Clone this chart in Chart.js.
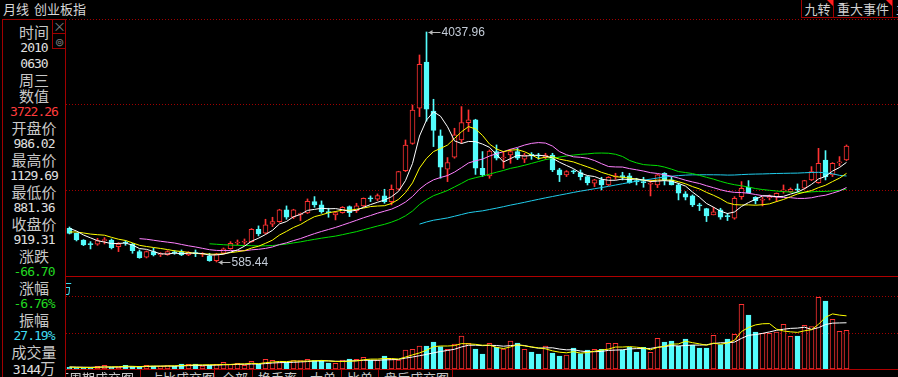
<!DOCTYPE html>
<html>
<head>
<meta charset="utf-8">
<script src="https://cdn.jsdelivr.net/npm/chart.js@4/dist/chart.umd.min.js"></script>
<style>
  html, body { margin: 0; padding: 0; background: #000; }
  #wrap { position: relative; width: 898px; height: 377px; overflow: hidden; background: #000; font-family: "Noto Sans CJK SC", sans-serif; }
  .abs { position: absolute; }
  .red { background: #a00000; }
  #info { left: 3px; top: 24px; width: 62px; text-align: center; color: #c8c8c8; font-size: 15px; line-height: 16px; }
  #info div { height: 16px; white-space: nowrap; }
  #info .num { font-family: "DejaVu Sans Mono", monospace; font-size: 13px; letter-spacing: -1px; color: #e0e0e0; }
  .btn { top: 0; height: 17px; border: 1px solid #a00000; border-top: none; color: #d0d0d0; font-size: 13px; line-height: 17px; text-align: center; overflow: hidden; }
  .btn .tri { position: absolute; right: 0; top: 0; width: 0; height: 0; border-top: 6px solid #ff2020; border-left: 6px solid transparent; }
  .tab { top: 370px; color: #c8c8c8; font-size: 13px; line-height: 14px; white-space: nowrap; }
</style>
</head>
<body>
<div id="wrap">
  <div class="abs" style="left:3px;top:0;color:#d8d8d8;font-size:13px;line-height:18px;">月线</div>
  <div class="abs" style="left:34px;top:0;color:#d8d8d8;font-size:13px;line-height:18px;">创业板指</div>

  <div class="abs btn" style="left:801px;width:31px;">九转<span class="tri"></span></div>
  <div class="abs btn" style="left:833px;width:58px;">重大事件<span class="tri"></span></div>
  <div class="abs btn" style="left:892px;width:20px;text-align:left;padding-left:3px;">主</div>

  <div class="abs red" style="left:2px;top:19px;width:64px;height:1px;"></div>
  <div class="abs red" style="left:2px;top:19px;width:1px;height:358px;"></div>
  <div class="abs red" style="left:65px;top:19px;width:1px;height:358px;"></div>
  <div class="abs" style="left:52px;top:19px;width:12px;height:13px;border:1px solid #a00000;color:#808080;font-size:13px;line-height:12px;text-align:center;">×</div>
  <div class="abs" style="left:52px;top:33px;width:12px;height:14px;border:1px solid #a00000;color:#808080;font-size:11px;line-height:14px;text-align:center;">⊚</div>

  <div id="info" class="abs">
    <div>时间</div>
    <div class="num">2010</div>
    <div class="num">0630</div>
    <div>周三</div>
    <div>数值</div>
    <div class="num" style="color:#ff3c3c">3722.26</div>
    <div>开盘价</div>
    <div class="num">986.02</div>
    <div>最高价</div>
    <div class="num">1129.69</div>
    <div>最低价</div>
    <div class="num">881.36</div>
    <div>收盘价</div>
    <div class="num">919.31</div>
    <div>涨跌</div>
    <div class="num" style="color:#22d822">-66.70</div>
    <div>涨幅</div>
    <div class="num" style="color:#22d822">-6.76%</div>
    <div>振幅</div>
    <div class="num" style="color:#40dcf0">27.19%</div>
    <div>成交量</div>
    <div><span class="num">3144</span>万</div>
    <div>换手率</div>
  </div>

  <canvas id="priceChart" class="abs" width="832" height="257" style="left:66px;top:19px;"></canvas>
  <div class="abs red" style="left:66px;top:276px;width:832px;height:1px;background:#b00000;"></div>
  <canvas id="volumeChart" class="abs" width="832" height="92" style="left:66px;top:277px;"></canvas>
  <div class="abs" style="left:66px;top:280px;width:8px;height:16px;overflow:hidden;">
    <span class="abs" style="left:-7px;top:0;color:#40dcf0;font-size:13px;line-height:16px;">万</span>
  </div>
  <div class="abs red" style="left:66px;top:369px;width:832px;height:1px;background:#b00000;"></div>

  <div class="abs" style="left:66px;top:370px;width:400px;height:7px;overflow:hidden;">
    <span class="abs tab" style="left:-10px;top:1px;">下周期成交图</span>
    <span class="abs tab" style="left:84px;top:1px;">占比成交图</span>
    <span class="abs tab" style="left:156px;top:1px;">全部</span>
    <span class="abs tab" style="left:192px;top:1px;">换手率</span>
    <span class="abs tab" style="left:244px;top:1px;">大单</span>
    <span class="abs tab" style="left:281px;top:1px;">比单</span>
    <span class="abs tab" style="left:318px;top:1px;">盘后成交图</span>
    <span class="abs red" style="left:74px;top:0;width:1px;height:7px;"></span>
    <span class="abs red" style="left:148px;top:0;width:1px;height:7px;"></span>
    <span class="abs red" style="left:186px;top:0;width:1px;height:7px;"></span>
    <span class="abs red" style="left:236px;top:0;width:1px;height:7px;"></span>
    <span class="abs red" style="left:275px;top:0;width:1px;height:7px;"></span>
    <span class="abs red" style="left:312px;top:0;width:1px;height:7px;"></span>
    <span class="abs red" style="left:386px;top:0;width:1px;height:7px;"></span>
  </div>
</div>

<script>
// monthly candles, 2011-03 .. 2020-06
const months = [
  '2011-03', '2011-04', '2011-05', '2011-06', '2011-07', '2011-08', '2011-09', '2011-10', '2011-11', '2011-12',
  '2012-01', '2012-02', '2012-03', '2012-04', '2012-05', '2012-06', '2012-07', '2012-08', '2012-09', '2012-10', '2012-11', '2012-12',
  '2013-01', '2013-02', '2013-03', '2013-04', '2013-05', '2013-06', '2013-07', '2013-08', '2013-09', '2013-10', '2013-11', '2013-12',
  '2014-01', '2014-02', '2014-03', '2014-04', '2014-05', '2014-06', '2014-07', '2014-08', '2014-09', '2014-10', '2014-11', '2014-12',
  '2015-01', '2015-02', '2015-03', '2015-04', '2015-05', '2015-06', '2015-07', '2015-08', '2015-09', '2015-10', '2015-11', '2015-12',
  '2016-01', '2016-02', '2016-03', '2016-04', '2016-05', '2016-06', '2016-07', '2016-08', '2016-09', '2016-10', '2016-11', '2016-12',
  '2017-01', '2017-02', '2017-03', '2017-04', '2017-05', '2017-06', '2017-07', '2017-08', '2017-09', '2017-10', '2017-11', '2017-12',
  '2018-01', '2018-02', '2018-03', '2018-04', '2018-05', '2018-06', '2018-07', '2018-08', '2018-09', '2018-10', '2018-11', '2018-12',
  '2019-01', '2019-02', '2019-03', '2019-04', '2019-05', '2019-06', '2019-07', '2019-08', '2019-09', '2019-10', '2019-11', '2019-12',
  '2020-01', '2020-02', '2020-03', '2020-04', '2020-05', '2020-06'
];

const open = [
  1091, 1016, 916, 851, 851, 906, 916, 816, 876, 856,
  741, 656, 741, 696, 696, 726, 741, 691, 716, 701,
  676, 606, 716, 786, 871, 881, 892, 1077, 1017, 1152,
  1192, 1367, 1257, 1297, 1322, 1492, 1442, 1332, 1292, 1327,
  1417, 1357, 1427, 1537, 1527, 1577, 1492, 1677, 1957, 2367,
  2893, 3588, 2852, 2478, 1978, 2158, 2418, 2678, 2718, 1993,
  1878, 2242, 2147, 2192, 2242, 2127, 2197, 2182, 2157, 2192,
  1967, 1892, 1947, 1927, 1867, 1767, 1817, 1742, 1862, 1872,
  1877, 1797, 1782, 1752, 1742, 1917, 1817, 1742, 1607, 1577,
  1432, 1387, 1292, 1367, 1272, 1242, 1567, 1707, 1557, 1512,
  1552, 1567, 1652, 1642, 1672, 1692, 1817, 1777, 2117, 1892,
  2072, 2117
];
const high = [
  1111, 1021, 921, 891, 941, 951, 931, 876, 906, 866,
  766, 751, 791, 726, 756, 756, 766, 741, 766, 726,
  716, 716, 796, 891, 916, 931, 1087, 1127, 1227, 1257,
  1377, 1427, 1377, 1322, 1532, 1567, 1502, 1392, 1342, 1417,
  1427, 1467, 1547, 1577, 1607, 1677, 1742, 1947, 2417, 2942,
  3693, 4037.96, 3028, 2568, 2153, 2593, 2918, 2868, 2728, 2243,
  2267, 2342, 2242, 2277, 2292, 2217, 2227, 2217, 2217, 2217,
  1992, 1957, 1967, 1967, 1877, 1827, 1857, 1867, 1917, 1932,
  1917, 1842, 1857, 1817, 1902, 1927, 1867, 1767, 1642, 1592,
  1467, 1392, 1407, 1392, 1317, 1567, 1792, 1807, 1567, 1557,
  1592, 1622, 1742, 1697, 1757, 1812, 2017, 2292, 2257, 2077,
  2167, 2342
];
const low = [
  1006, 901, 831, 781, 836, 856, 781, 741, 836, 716,
  641, 646, 676, 666, 686, 701, 681, 681, 666, 666,
  596, 585.44, 706, 776, 841, 851, 882, 977, 1007, 1117,
  1182, 1227, 1237, 1207, 1312, 1407, 1317, 1257, 1217, 1317,
  1267, 1327, 1417, 1492, 1507, 1467, 1442, 1667, 1942, 2352,
  2768, 2700, 2318, 1843, 1792, 2143, 2368, 2543, 1900, 1868,
  1842, 2117, 1992, 2067, 2122, 2077, 2127, 2127, 2127, 1942,
  1792, 1867, 1912, 1817, 1742, 1717, 1667, 1732, 1827, 1817,
  1767, 1742, 1707, 1577, 1702, 1742, 1742, 1517, 1517, 1417,
  1357, 1192, 1292, 1227, 1207, 1227, 1527, 1617, 1457, 1427,
  1517, 1492, 1617, 1627, 1642, 1682, 1807, 1767, 1817, 1867,
  2027, 2107
];
const close = [
  1016, 916, 841, 846, 906, 911, 801, 856, 871, 756,
  651, 741, 691, 701, 741, 721, 691, 731, 711, 706,
  606, 706, 781, 866, 876, 886, 1077, 1007, 1142, 1192,
  1367, 1257, 1367, 1312, 1497, 1442, 1342, 1327, 1327, 1407,
  1327, 1427, 1542, 1532, 1582, 1492, 1677, 1942, 2342, 2867,
  3553, 2878, 2562, 2008, 2078, 2493, 2678, 2718, 1993, 1893,
  2252, 2142, 2157, 2242, 2142, 2192, 2187, 2177, 2192, 1967,
  1892, 1942, 1937, 1867, 1777, 1817, 1742, 1857, 1867, 1867,
  1777, 1792, 1777, 1757, 1892, 1817, 1742, 1617, 1557, 1442,
  1427, 1277, 1337, 1257, 1267, 1542, 1692, 1627, 1507, 1517,
  1557, 1617, 1657, 1677, 1667, 1807, 1942, 2067, 1867, 2067,
  2077, 2327
];
const volume = [
  17, 13, 13, 13, 27, 37, 17, 20, 37, 23,
  23, 37, 30, 30, 33, 30, 50, 47, 50, 30,
  37, 47, 67, 47, 57, 37, 77, 47, 97, 87,
  70, 67, 83, 83, 97, 83, 83, 60, 57, 90,
  100, 97, 117, 90, 90, 130, 97, 90, 190, 197,
  230, 230, 270, 223, 197, 250, 330, 257, 200, 150,
  257, 217, 200, 280, 260, 197, 170, 150, 230, 160,
  130, 140, 210, 153, 190, 197, 197, 257, 257, 190,
  217, 170, 217, 167, 307, 270, 280, 230, 300, 237,
  210, 210, 337, 243, 300, 347, 647, 540, 370, 357,
  357, 370, 447, 327, 330, 437, 423, 717, 680, 497,
  377, 387
];

// months before the visible window (2010-06 .. 2011-02), needed by the averages
const priorClose = [919.31, 990, 1010, 1000, 986, 1120, 1140, 1060, 1119];
const priorVolume = [31, 22, 20, 18, 20, 24, 20, 16, 18];

const priceGrid = [1656, 2953, 4233];
const volumeGrid = [360, 720];

const RED = '#ff3232';
const CYAN = '#54fcfc';

function movingAverage(series, prior, period) {
    const all = prior.concat(series);
    return series.map((_, i) => {
        const end = i + prior.length;
        if (end + 1 < period) return null;
        let sum = 0;
        for (let k = end - period + 1; k <= end; k++) sum += all[k];
        return sum / period;
    });
}

const isUp = i => close[i] >= open[i];
const points = arr => arr.map((v, i) => ({ x: i, y: v }));

const xScale = {
    type: 'linear',
    min: -0.5,
    max: -0.5 + 832 / 7,
    offset: false,
    display: false
};

function lineSet(values, color) {
    return {
        type: 'line',
        data: points(values),
        borderColor: color,
        borderWidth: 1,
        pointRadius: 0,
        tension: 0,
        order: 0
    };
}

const extremeLabels = {
    id: 'extremeLabels',
    afterDatasetsDraw(chart) {
        const ctx = chart.ctx;
        const x = chart.scales.x;
        const y = chart.scales.y;
        const hi = high.indexOf(Math.max(...high));
        const lo = low.indexOf(Math.min(...low));
        [[hi, high[hi]], [lo, low[lo]]].forEach(([i, v]) => {
            const px = Math.round(x.getPixelForValue(i)) + 0.5;
            const py = Math.round(y.getPixelForValue(v)) + 0.5;
            ctx.save();
            ctx.strokeStyle = '#b8b8b8';
            ctx.fillStyle = '#b8b8b8';
            ctx.lineWidth = 1;
            ctx.beginPath();
            ctx.moveTo(px + 1, py);
            ctx.lineTo(px + 13, py);
            ctx.stroke();
            ctx.beginPath();
            ctx.moveTo(px + 1, py);
            ctx.lineTo(px + 5, py - 2.5);
            ctx.lineTo(px + 5, py + 2.5);
            ctx.closePath();
            ctx.fill();
            ctx.fillStyle = '#c4ccd8';
            ctx.font = '12px "Liberation Sans", Arial, sans-serif';
            ctx.textBaseline = 'middle';
            ctx.textAlign = 'left';
            ctx.fillText(v.toFixed(2), px + 14, py);
            ctx.restore();
        });
    }
};

const commonOptions = {
    animation: false,
    responsive: false,
    devicePixelRatio: 1,
    events: [],
    layout: { padding: 0 },
    plugins: { legend: { display: false }, tooltip: { enabled: false } }
};

new Chart(document.getElementById('priceChart').getContext('2d'), {
    type: 'bar',
    data: {
        datasets: [
            lineSet(movingAverage(close, priorClose, 5), '#ffffff'),
            lineSet(movingAverage(close, priorClose, 10), '#ffff00'),
            lineSet(movingAverage(close, priorClose, 20), '#ff80ff'),
            lineSet(movingAverage(close, priorClose, 30), '#00e000'),
            lineSet(movingAverage(close, priorClose, 60), '#20cceb'),
            {
                // candle bodies
                data: open.map((o, i) => ({ x: i, y: [o, close[i]] })),
                backgroundColor: c => isUp(c.dataIndex) ? '#000000' : CYAN,
                borderColor: c => isUp(c.dataIndex) ? RED : CYAN,
                borderWidth: 1,
                borderSkipped: false,
                barThickness: 5,
                minBarLength: 1,
                grouped: false,
                order: 1
            },
            {
                // wicks
                data: low.map((l, i) => ({ x: i, y: [l, high[i]] })),
                backgroundColor: c => isUp(c.dataIndex) ? RED : CYAN,
                borderWidth: 0,
                barThickness: 1,
                grouped: false,
                order: 2
            }
        ]
    },
    options: Object.assign({}, commonOptions, {
        scales: {
            x: xScale,
            y: {
                min: 375,
                max: 4233,
                afterBuildTicks: s => { s.ticks = priceGrid.map(v => ({ value: v })); },
                ticks: { display: false },
                grid: { color: '#a00000', drawTicks: false, lineWidth: 1 },
                border: { display: false, dash: [1, 2] }
            }
        }
    }),
    plugins: [extremeLabels]
});

new Chart(document.getElementById('volumeChart').getContext('2d'), {
    type: 'bar',
    data: {
        datasets: [
            lineSet(movingAverage(volume, priorVolume, 5), '#ffff00'),
            lineSet(movingAverage(volume, priorVolume, 10), '#ffffff'),
            {
                data: points(volume),
                backgroundColor: c => isUp(c.dataIndex) ? '#000000' : CYAN,
                borderColor: c => isUp(c.dataIndex) ? RED : CYAN,
                borderWidth: 1,
                borderSkipped: false,
                barThickness: 5,
                grouped: false,
                order: 1
            }
        ]
    },
    options: Object.assign({}, commonOptions, {
        scales: {
            x: xScale,
            y: {
                min: 0,
                max: 920,
                afterBuildTicks: s => { s.ticks = volumeGrid.map(v => ({ value: v })); },
                ticks: { display: false },
                grid: { color: '#a00000', drawTicks: false, lineWidth: 1 },
                border: { display: false, dash: [1, 2] }
            }
        }
    })
});
</script>
</body>
</html>
